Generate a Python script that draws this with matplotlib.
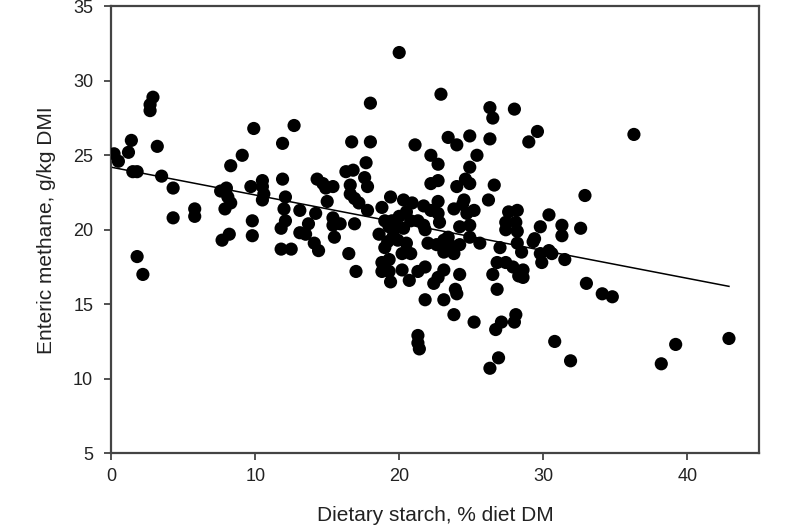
import matplotlib
matplotlib.use('Agg')
import matplotlib.pyplot as plt

plt.rcParams['font.family'] = ['Liberation Sans', 'DejaVu Sans']

# dietary starch (% diet DM) and enteric methane (g/kg DMI)
starch = [
    0.2, 0.5, 1.2, 1.4, 1.5, 1.8, 2.7, 2.7, 2.9, 3.2, 3.5, 4.3, 4.3, 5.8, 5.8,
    1.8, 2.2, 7.6, 8.0, 8.1, 8.3, 7.9, 8.3, 9.1, 9.9, 9.7, 8.2, 7.7, 9.8, 9.8,
    10.5, 10.5, 10.6, 10.5,
    11.9, 12.7, 11.9, 12.1, 12.0, 13.1, 14.2, 12.1, 11.8, 13.7, 13.1, 13.5,
    11.8, 12.5, 14.1, 14.4, 14.3, 14.7, 14.9, 15.4, 15.0, 15.4, 15.9, 15.5,
    16.9, 16.5, 17.0, 16.7, 18.0, 18.0, 17.7, 16.3, 16.8, 17.6, 17.8, 16.6,
    16.6, 16.9, 17.2, 17.8, 15.4,
    20.0, 21.1, 19.4, 18.8, 20.3, 20.9, 20.5, 21.7, 22.2, 20.0, 20.8, 21.3,
    19.5, 19.0, 19.3, 18.6, 19.0, 19.2, 19.8, 20.3, 19.6, 19.9,
    18.8, 19.3, 18.8, 19.3, 19.4, 20.5, 20.2, 20.8, 22.0, 22.6,
    23.1, 23.4, 23.5, 23.8, 23.1, 24.2, 20.2, 20.7, 21.3, 21.8, 21.8, 23.1,
    21.3, 21.3, 21.4, 23.1, 22.7, 22.4, 24.2, 23.9, 24.0, 23.8, 25.2,
    22.9, 23.4, 24.0, 24.9, 22.2, 22.7, 25.4, 24.9, 24.6, 24.9, 24.0, 22.7,
    22.7, 24.5, 24.4, 23.8, 25.2, 24.7, 22.2, 22.7, 22.8, 24.2, 24.9, 21.7,
    21.8, 24.9, 25.6,
    26.6, 26.2, 26.3, 26.5, 28.0, 29.6, 29.0, 26.3, 27.6, 28.2, 27.4, 28.1,
    27.4, 28.2, 30.4, 32.9, 29.8, 31.3, 31.3, 32.6, 27.0, 28.2, 28.5, 29.3,
    29.4, 29.8, 29.9, 30.4, 30.6, 31.5, 33.0, 26.8, 27.4, 27.9, 28.6, 28.6,
    28.3, 26.5, 26.8, 26.7, 27.1, 28.1, 28.0, 26.9, 26.3, 30.8, 31.9,
    36.3, 34.1, 34.8, 39.2, 38.2, 42.9,
]
methane = [
    25.1, 24.6, 25.2, 26.0, 23.9, 23.9, 28.4, 28.0, 28.9, 25.6, 23.6, 22.8, 20.8, 21.4, 20.9,
    18.2, 17.0, 22.6, 22.8, 22.2, 21.8, 21.4, 24.3, 25.0, 26.8, 22.9, 19.7, 19.3, 19.6, 20.6,
    23.3, 22.9, 22.4, 22.0,
    25.8, 27.0, 23.4, 22.2, 21.4, 21.3, 21.1, 20.6, 20.1, 20.4, 19.8, 19.7,
    18.7, 18.7, 19.1, 18.6, 23.4, 23.1, 22.8, 22.9, 21.9, 20.8, 20.4, 19.5,
    20.4, 18.4, 17.2, 25.9, 25.9, 28.5, 24.5, 23.9, 24.0, 23.5, 22.9, 23.0,
    22.4, 22.1, 21.8, 21.3, 20.3,
    31.9, 25.7, 22.2, 21.5, 22.0, 21.8, 21.2, 21.6, 23.1, 20.9, 20.6, 20.6,
    20.6, 20.6, 20.2, 19.7, 18.8, 19.2, 20.2, 20.1, 19.6, 19.3,
    17.8, 18.0, 17.2, 17.2, 16.5, 19.1, 18.4, 18.4, 19.1, 19.0,
    19.3, 19.5, 19.0, 18.4, 18.5, 19.0, 17.3, 16.6, 17.2, 17.5, 15.3, 15.3,
    12.9, 12.4, 12.0, 17.3, 16.8, 16.4, 17.0, 16.0, 15.7, 14.3, 13.8,
    29.1, 26.2, 25.7, 26.3, 25.0, 24.4, 25.0, 24.2, 23.4, 23.1, 22.9, 23.3,
    21.9, 22.0, 21.7, 21.4, 21.3, 21.1, 21.3, 21.1, 20.5, 20.2, 20.3, 20.3,
    20.0, 19.5, 19.1,
    23.0, 22.0, 28.2, 27.5, 28.1, 26.6, 25.9, 26.1, 21.2, 21.3, 20.5, 20.5,
    20.0, 19.9, 21.0, 22.3, 20.2, 20.3, 19.6, 20.1, 18.8, 19.1, 18.5, 19.2,
    19.4, 18.4, 17.8, 18.6, 18.4, 18.0, 16.4, 17.8, 17.8, 17.5, 17.3, 16.8,
    16.9, 17.0, 16.0, 13.3, 13.8, 14.3, 13.8, 11.4, 10.7, 12.5, 11.2,
    26.4, 15.7, 15.5, 12.3, 11.0, 12.7,
]

# fitted regression line, ends
fit_x = [0.0, 42.9]
fit_y = [24.2, 16.2]

x_ticks = [0, 10, 20, 30, 40]
y_ticks = [5, 10, 15, 20, 25, 30, 35]

fig = plt.figure(figsize=(8, 5.3), dpi=100)
ax = fig.add_axes([0.139, 0.145, 0.81, 0.843])

ax.scatter(starch, methane, s=90, c='black', edgecolors='none', zorder=3)
ax.plot(fit_x, fit_y, color='black', lw=1.1, zorder=2)

ax.set_xlim(0, 45)
ax.set_ylim(5, 35)
ax.set_xticks(x_ticks)
ax.set_yticks(y_ticks)
ax.tick_params(axis='x', pad=6)
ax.tick_params(axis='y', pad=8)
ax.tick_params(direction='out', length=5, width=1.2, labelsize=13,
               top=False, right=False, colors='#333333', labelcolor='#222222')
for sp in ax.spines.values():
    sp.set_linewidth(1.6)
    sp.set_color('#444444')

ax.set_xlabel('Dietary starch, % diet DM', fontsize=15, color='#222222', labelpad=15)
ax.set_ylabel('Enteric methane, g/kg DMI', fontsize=15, color='#222222', labelpad=12)

fig.savefig('out.png', dpi=100, facecolor='white')
